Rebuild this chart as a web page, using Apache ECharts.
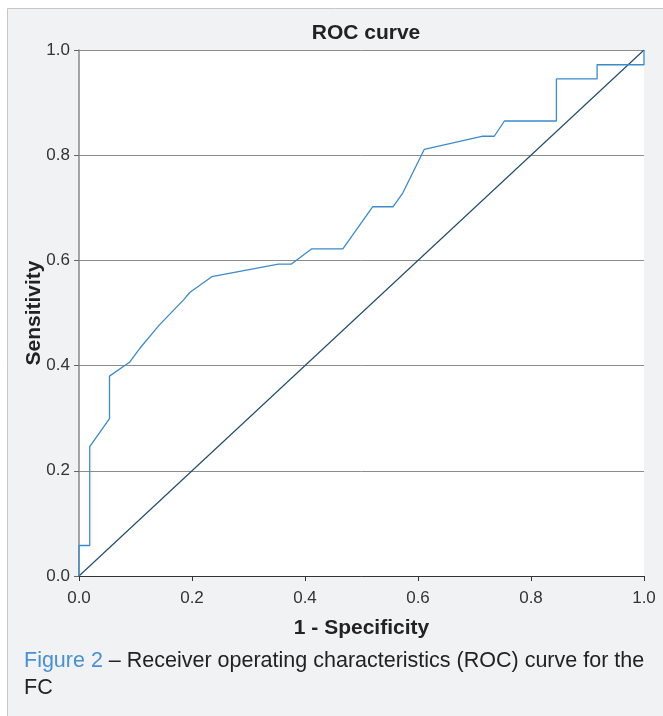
<!DOCTYPE html>
<html>
<head>
<meta charset="utf-8">
<script src="https://cdn.jsdelivr.net/npm/echarts@6/dist/echarts.min.js"></script>
<style>
html,body{margin:0;padding:0;background:#fff;}
#chart{width:663px;height:716px;}
</style>
</head>
<body>
<div id="chart"></div>
<script>
// ROC curve points (1 - specificity, sensitivity)
var fpr = [0.000, 0.000, 0.019, 0.019, 0.054, 0.054, 0.090, 0.107, 0.142, 0.185, 0.196, 0.235, 0.353, 0.376, 0.412, 0.467, 0.520, 0.556, 0.573, 0.611, 0.713, 0.735, 0.753, 0.845, 0.845, 0.917, 0.917, 1.000, 1.000];
var tpr = [0.000, 0.058, 0.058, 0.246, 0.299, 0.380, 0.407, 0.432, 0.477, 0.525, 0.539, 0.569, 0.593, 0.593, 0.622, 0.622, 0.702, 0.702, 0.728, 0.811, 0.836, 0.836, 0.865, 0.865, 0.945, 0.945, 0.972, 0.972, 1.000];
// reference (chance) line
var refX = [0, 1];
var refY = [0, 1];
var xTicks = [0, 0.2, 0.4, 0.6, 0.8, 1.0];
var yTicks = [0, 0.2, 0.4, 0.6, 0.8, 1.0];

var rocData = fpr.map(function(v, i){ return [v, tpr[i]]; });
var refData = refX.map(function(v, i){ return [v, refY[i]]; });

var font = '"Liberation Sans", Arial, sans-serif';
var chart = echarts.init(document.getElementById('chart'), null, {renderer:'canvas'});
chart.setOption({
  backgroundColor: '#ffffff',
  animation: false,
  graphic: [
    {type:'rect', z:-10, silent:true, shape:{x:7.5, y:8.5, width:660, height:720}, style:{fill:'#f1f2f4', stroke:'#c8c8c8', lineWidth:1}},
    {type:'text', left:24, top:648, style:{
      text:'{a|Figure 2} – Receiver operating characteristics (ROC) curve for the\nFC',
      font:'21.5px ' + font, fill:'#222', lineHeight:26.5,
      rich:{a:{fill:'#4a8fd6', font:'21.5px ' + font}}
    }}
  ],
  title: {
    text: 'ROC curve', left: 361, top: 18, textAlign: 'center',
    textStyle: {fontFamily: font, fontSize: 21, fontWeight: 'bold', color: '#222'}
  },
  grid: {left:79, right:19, top:50, bottom:140, show:true, backgroundColor:'#ffffff', borderWidth:0, containLabel:false},
  xAxis: {
    type:'value', min:0, max:1, interval:0.2,
    name:'1 - Specificity', nameLocation:'middle', nameGap:42, nameMoveOverlap:false,
    nameTextStyle:{fontFamily:font, fontSize:21, fontWeight:'bold', color:'#222'},
    axisLine:{show:true, lineStyle:{color:'#333', width:1}},
    axisTick:{show:true, length:5, lineStyle:{color:'#333'}},
    axisLabel:{margin:14, fontFamily:font, fontSize:17, color:'#333', formatter:function(v){return v.toFixed(1);}},
    splitLine:{show:false}
  },
  yAxis: {
    type:'value', min:0, max:1, interval:0.2,
    name:'Sensitivity', nameLocation:'middle', nameGap:34, nameRotate:90, nameMoveOverlap:false,
    nameTextStyle:{fontFamily:font, fontSize:21, fontWeight:'bold', color:'#222'},
    axisLine:{show:true, lineStyle:{color:'#888', width:1.5}},
    axisTick:{show:true, length:5, lineStyle:{color:'#666'}},
    axisLabel:{margin:9, fontFamily:font, fontSize:17, color:'#333', formatter:function(v){return v.toFixed(1);}},
    splitLine:{show:true, lineStyle:{color:'#8c8c8c', width:1}}
  },
  series: [
    {type:'line', data:refData, symbol:'none', silent:true, lineStyle:{color:'#1d4a66', width:1.1}, z:2},
    {type:'line', data:rocData, symbol:'none', silent:true, lineStyle:{color:'#3b8bcb', width:1.3}, z:3}
  ]
});
</script>
</body>
</html>
